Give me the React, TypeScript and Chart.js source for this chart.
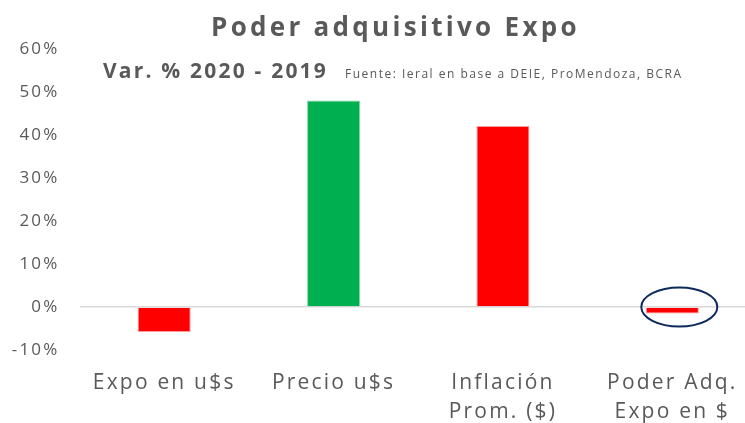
import React, { useEffect, useRef } from "react";
import { Chart, registerables } from "chart.js";

Chart.register(...registerables);

const TITLE = "Poder adquisitivo Expo";
const SUBTITLE = "Var. % 2020 - 2019";
const SOURCE = "Fuente: Ieral en base a DEIE, ProMendoza, BCRA";

const categories: string[][] = [
  ["Expo en u$s"],
  ["Precio u$s"],
  ["Inflación", "Prom. ($)"],
  ["Poder Adq.", "Expo en $"],
];
const values: number[] = [-5.8, 48, 42.1, -1.5];
const barColors: string[] = ["#FF0000", "#00B050", "#FF0000", "#FF0000"];
const barEdgeColors: string[] = ["#FF9A9A", "#7FD8A4", "#FF9A9A", "#FF9A9A"];
const highlightIndex = 3;

const Y_MIN = -10;
const Y_MAX = 60;
const Y_STEP = 10;

const TEXT = "#595959";

const spacingPlugin = {
  id: "spacing",
  beforeLayout(chart: any) {
    chart.ctx.letterSpacing = "2.2px";
  },
  beforeDraw(chart: any) {
    chart.ctx.letterSpacing = "2.2px";
  },
};

const headerPlugin = {
  id: "header",
  afterDraw(chart: any) {
    const ctx = chart.ctx;
    ctx.save();
    ctx.fillStyle = TEXT;
    ctx.textAlign = "left";
    ctx.textBaseline = "alphabetic";
    ctx.font = 'bold 26px "Open Sans"';
    ctx.letterSpacing = "3.3px";
    ctx.fillText(TITLE, 211, 36);
    ctx.font = 'bold 21px "Open Sans"';
    ctx.letterSpacing = "2.2px";
    ctx.fillText(SUBTITLE, 103, 78);
    ctx.font = '12px "Open Sans"';
    ctx.letterSpacing = "1.5px";
    ctx.fillText(SOURCE, 345, 78);
    ctx.restore();
  },
};

const ellipsePlugin = {
  id: "ellipse",
  afterDatasetsDraw(chart: any) {
    const ctx = chart.ctx;
    const xs = chart.scales.x;
    const ys = chart.scales.y;
    const cx = xs.getPixelForValue(highlightIndex);
    const cy = ys.getPixelForValue(0);
    ctx.save();
    ctx.beginPath();
    ctx.ellipse(cx + 7, cy, 38, 19.5, 0, 0, Math.PI * 2);
    ctx.strokeStyle = "#0E2A5C";
    ctx.lineWidth = 2;
    ctx.stroke();
    ctx.restore();
  },
};

export default function App() {
  const ref = useRef<HTMLCanvasElement | null>(null);

  useEffect(() => {
    if (!ref.current) return;
    const chart = new Chart(ref.current, {
      type: "bar",
      data: {
        labels: categories,
        datasets: [
          {
            data: values,
            backgroundColor: barColors,
            borderColor: barEdgeColors,
            borderWidth: 1,
            barPercentage: 0.313,
            categoryPercentage: 1,
          },
        ],
      },
      options: {
        responsive: false,
        animation: false,
        layout: { padding: { top: 49, left: 0, right: 0, bottom: 0 } },
        plugins: {
          legend: { display: false },
          tooltip: { enabled: false },
          title: { display: false },
        },
        scales: {
          x: {
            grid: { display: false, drawTicks: false },
            border: { display: false },
            ticks: {
              color: TEXT,
              font: { family: '"Open Sans"', size: 21, lineHeight: 1.38 },
              padding: 19,
              maxRotation: 0,
              autoSkip: false,
            },
            afterFit(scale: any) {
              scale.height = 73;
            },
          },
          y: {
            min: Y_MIN,
            max: Y_MAX,
            grid: {
              drawTicks: false,
              color: (c: any) => (c.tick && c.tick.value === 0 ? "#D9D9D9" : "rgba(0,0,0,0)"),
              lineWidth: 1.5,
            },
            border: { display: false },
            ticks: {
              stepSize: Y_STEP,
              color: TEXT,
              font: { family: '"Open Sans"', size: 17 },
              padding: 20,
              callback: (v: any) => `${v}%`,
            },
            afterFit(scale: any) {
              scale.width = 79.5;
            },
          },
        },
      },
      plugins: [spacingPlugin, ellipsePlugin, headerPlugin],
    });
    return () => chart.destroy();
  }, []);

  return (
    <div
      style={{
        position: "fixed",
        left: 0,
        top: 0,
        width: 745,
        height: 423,
        overflow: "hidden",
        background: "#fff",
      }}
    >
      <canvas ref={ref} width={757} height={423} style={{ display: "block" }} />
    </div>
  );
}
